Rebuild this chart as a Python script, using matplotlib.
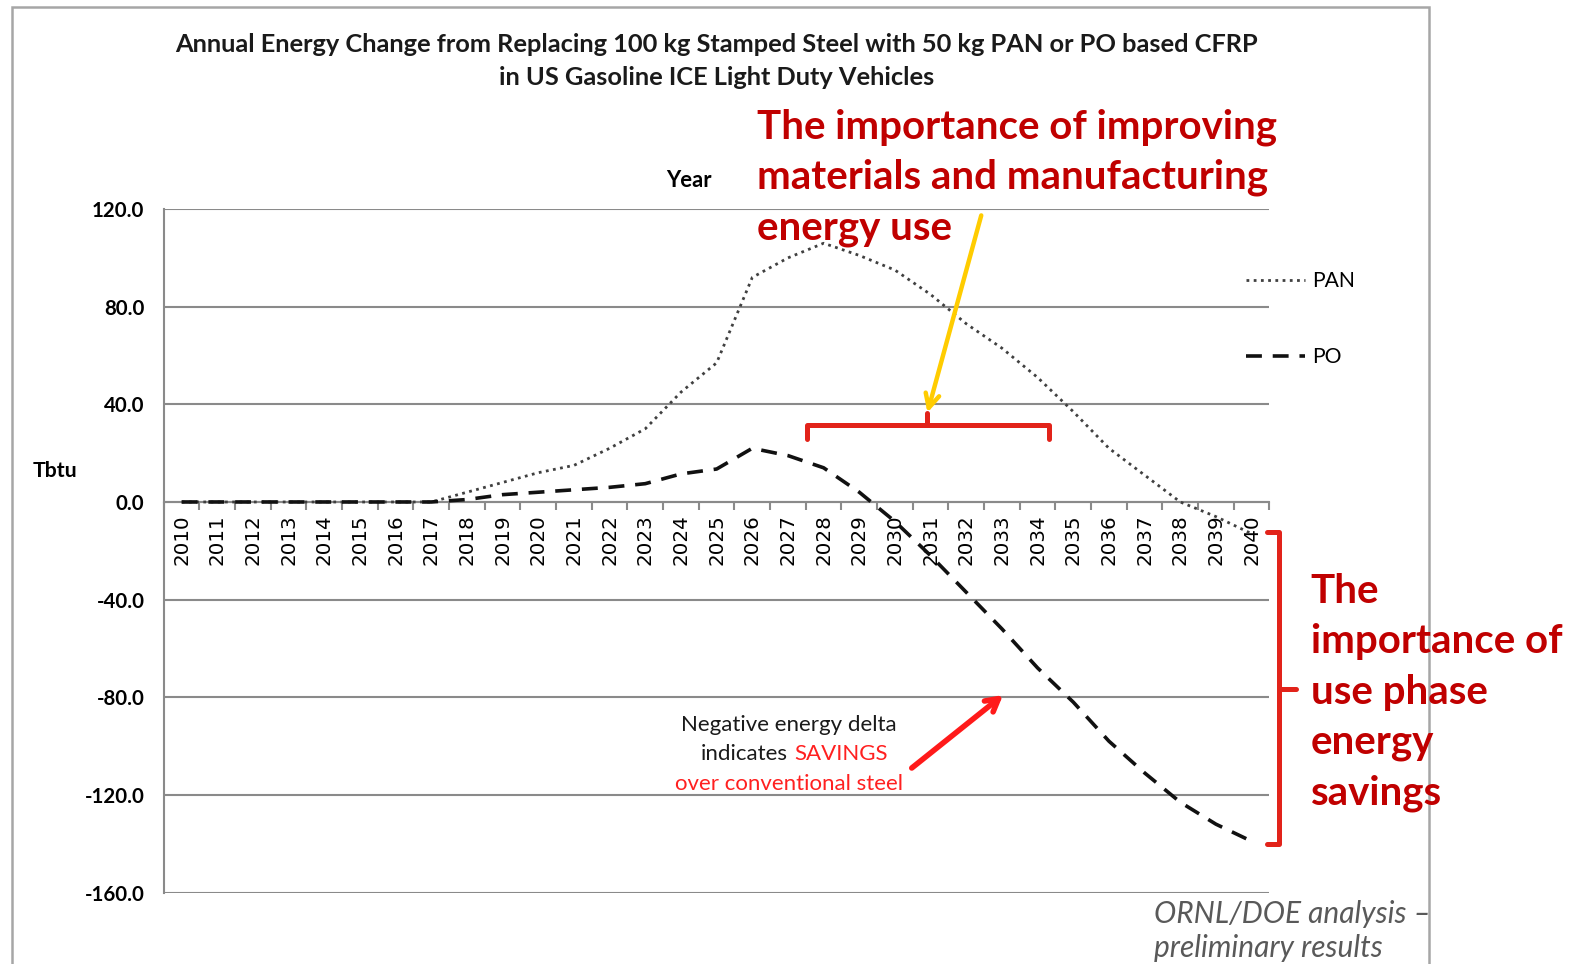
import matplotlib
matplotlib.use("Agg")
import matplotlib.pyplot as plt
import numpy as np
from matplotlib.patches import Rectangle

# ---- data -------------------------------------------------------------
years = list(range(2010, 2041))
pan = [0, 0, 0, 0, 0, 0, 0, 0,
       4, 8, 12, 15, 22, 30, 45, 57, 92, 100, 106, 101, 95, 85,
       73, 63, 51, 37, 22, 11, 0, -6, -13]
po = [0, 0, 0, 0, 0, 0, 0, 0,
      1, 3, 4, 5, 6, 7.5, 11.5, 13.5, 22, 19, 14, 4, -8, -22,
      -37, -52, -68, -82, -98, -111, -123, -132, -139]
y_ticks = [-160, -120, -80, -40, 0, 40, 80, 120]
series_names = ["PAN", "PO"]

title_lines = ["Annual Energy Change from Replacing 100 kg Stamped Steel with 50 kg PAN or PO based CFRP",
               "in US Gasoline ICE Light Duty Vehicles"]

# ---- figure -------------------------------------------------------------
W, H = 1576, 964
S = 1576 / 1568          # layout grid below is laid out on a 1568-wide canvas
fig = plt.figure(figsize=(W / 100, H / 100), dpi=100)
fig.patch.set_facecolor("white")

FONT = ["Lato", "DejaVu Sans"]
GRID = "#8a8a8a"
DARKRED = "#C00000"
BRACKET = "#E2231A"


def fx(x):
    return x * S / W


def fy(y):
    return 1 - y * S / H


def txt(x, y, s, **kw):
    kw.setdefault("family", FONT)
    kw.setdefault("va", "baseline")
    return fig.text(fx(x), fy(y), s, **kw)


# chart frame
fig.add_artist(Rectangle((fx(12), fy(990)), fx(1422) - fx(12), fy(7) - fy(990),
                         transform=fig.transFigure, fill=False,
                         edgecolor="#a6a6a6", lw=1.8, zorder=0))

ax = fig.add_axes([fx(163), fy(888), fx(1263) - fx(163), fy(208) - fy(888)])
ax.set_facecolor("none")
x = np.arange(len(years))

ax.plot(x, pan, color="#404040", lw=2.0, linestyle=(0, (1, 1.6)),
        dash_capstyle="butt", label=series_names[0], zorder=3, clip_on=False)
ax.plot(x, po, color="#111111", lw=2.6, linestyle=(0, (4.4, 3.0)),
        dash_capstyle="butt", label=series_names[1], zorder=3, clip_on=False)

ax.set_xlim(-0.5, len(years) - 0.5)
ax.set_ylim(-160, 120)
ax.set_axisbelow(True)

ax.set_yticks(y_ticks)
ax.set_yticklabels([f"{v:.1f}" for v in y_ticks], family=FONT,
                   fontweight="bold", fontsize=14.8)
ax.tick_params(axis="y", length=0, pad=14)
ax.grid(axis="y", color=GRID, lw=1.5)

ax.set_xticks(x)
ax.set_xticks(np.arange(-0.5, len(years)), minor=True)
ax.tick_params(axis="x", which="major", length=0, pad=9, labelrotation=90,
               labelsize=14.3)
ax.set_xticklabels([str(y) for y in years], family=FONT)
ax.tick_params(axis="x", which="minor", length=6, width=1.5, color=GRID,
               direction="out")

for s in ("top", "right"):
    ax.spines[s].set_visible(False)
ax.spines["left"].set_color(GRID)
ax.spines["left"].set_linewidth(1.5)
ax.spines["bottom"].set_position(("data", 0))
ax.spines["bottom"].set_color(GRID)
ax.spines["bottom"].set_linewidth(1.5)

leg = ax.legend(loc="upper left", bbox_to_anchor=(fx(1240), fy(270)),
                bbox_transform=fig.transFigure, frameon=False,
                prop={"family": FONT, "size": 15.2}, handlelength=2.8,
                handletextpad=0.3, labelspacing=2.65, borderpad=0,
                borderaxespad=0)

# ---- titles and axis captions -------------------------------------------
txt(713, 52, title_lines[0], ha="center", fontsize=18.3, fontweight="bold",
    color="#1a1a1a")
txt(713, 85, title_lines[1], ha="center", fontsize=18.3, fontweight="bold",
    color="#1a1a1a")
txt(685, 186, "Year", ha="center", fontsize=15.8, fontweight="bold")
txt(55, 475, "Tbtu", ha="center", fontsize=15.3, fontweight="bold")

# ---- callouts ------------------------------------------------------------
for i, line in enumerate(["The importance of improving",
                          "materials and manufacturing",
                          "energy use"]):
    txt(753, 138 + 50 * i, line, ha="left", fontsize=29, fontweight="bold",
        color=DARKRED)

for i, line in enumerate(["The", "importance of", "use phase", "energy",
                          "savings"]):
    txt(1304, 600 + 50 * i, line, ha="left", fontsize=29, fontweight="bold",
        color=DARKRED)

txt(785, 727, "Negative energy delta", ha="center", fontsize=16,
    color="#1a1a1a")
txt(784, 756, "indicates", ha="right", fontsize=16, color="#1a1a1a")
txt(790, 756, "SAVINGS", ha="left", fontsize=16, color="#ff2020")
txt(785, 786, "over conventional steel", ha="center", fontsize=16,
    color="#ff2020")

txt(1148, 918, "ORNL/DOE analysis \u2013", ha="left", fontsize=21.5,
    style="italic", color="#595959")
txt(1148, 952, "preliminary results", ha="left", fontsize=21.5,
    style="italic", color="#595959")

# horizontal bracket over the manufacturing-dominated years
ax.plot([17.54, 17.54, 24.33, 24.33], [26, 31.6, 31.6, 26], color=BRACKET,
        lw=3.6, solid_joinstyle="round", solid_capstyle="round",
        clip_on=False, zorder=4)
ax.plot([20.89, 20.89], [31.6, 36.5], color=BRACKET, lw=3.6,
        solid_capstyle="round", clip_on=False, zorder=4)

# vertical bracket along the savings range
ax.plot([30.42, 30.78, 30.78, 30.42], [-12.4, -12.4, -140.2, -140.2],
        color=BRACKET, lw=3.6, solid_joinstyle="round",
        solid_capstyle="round", clip_on=False, zorder=4)
ax.plot([30.78, 31.25], [-76.7, -76.7], color=BRACKET, lw=3.6,
        solid_capstyle="round", clip_on=False, zorder=4)

# arrows
ax.annotate("", xy=(20.89, 35.5), xytext=(22.44, 118.5),
            arrowprops=dict(arrowstyle="->,head_length=1.0,head_width=0.5",
                            color="#FFCC00", lw=3.2),
            annotation_clip=False, zorder=5)
ax.annotate("", xy=(23.09, -78.4), xytext=(20.41, -109.7),
            arrowprops=dict(arrowstyle="->,head_length=0.9,head_width=0.5",
                            color="#FF1A1A", lw=4),
            annotation_clip=False, zorder=5)

fig.savefig("out.png", dpi=100, facecolor="white")
